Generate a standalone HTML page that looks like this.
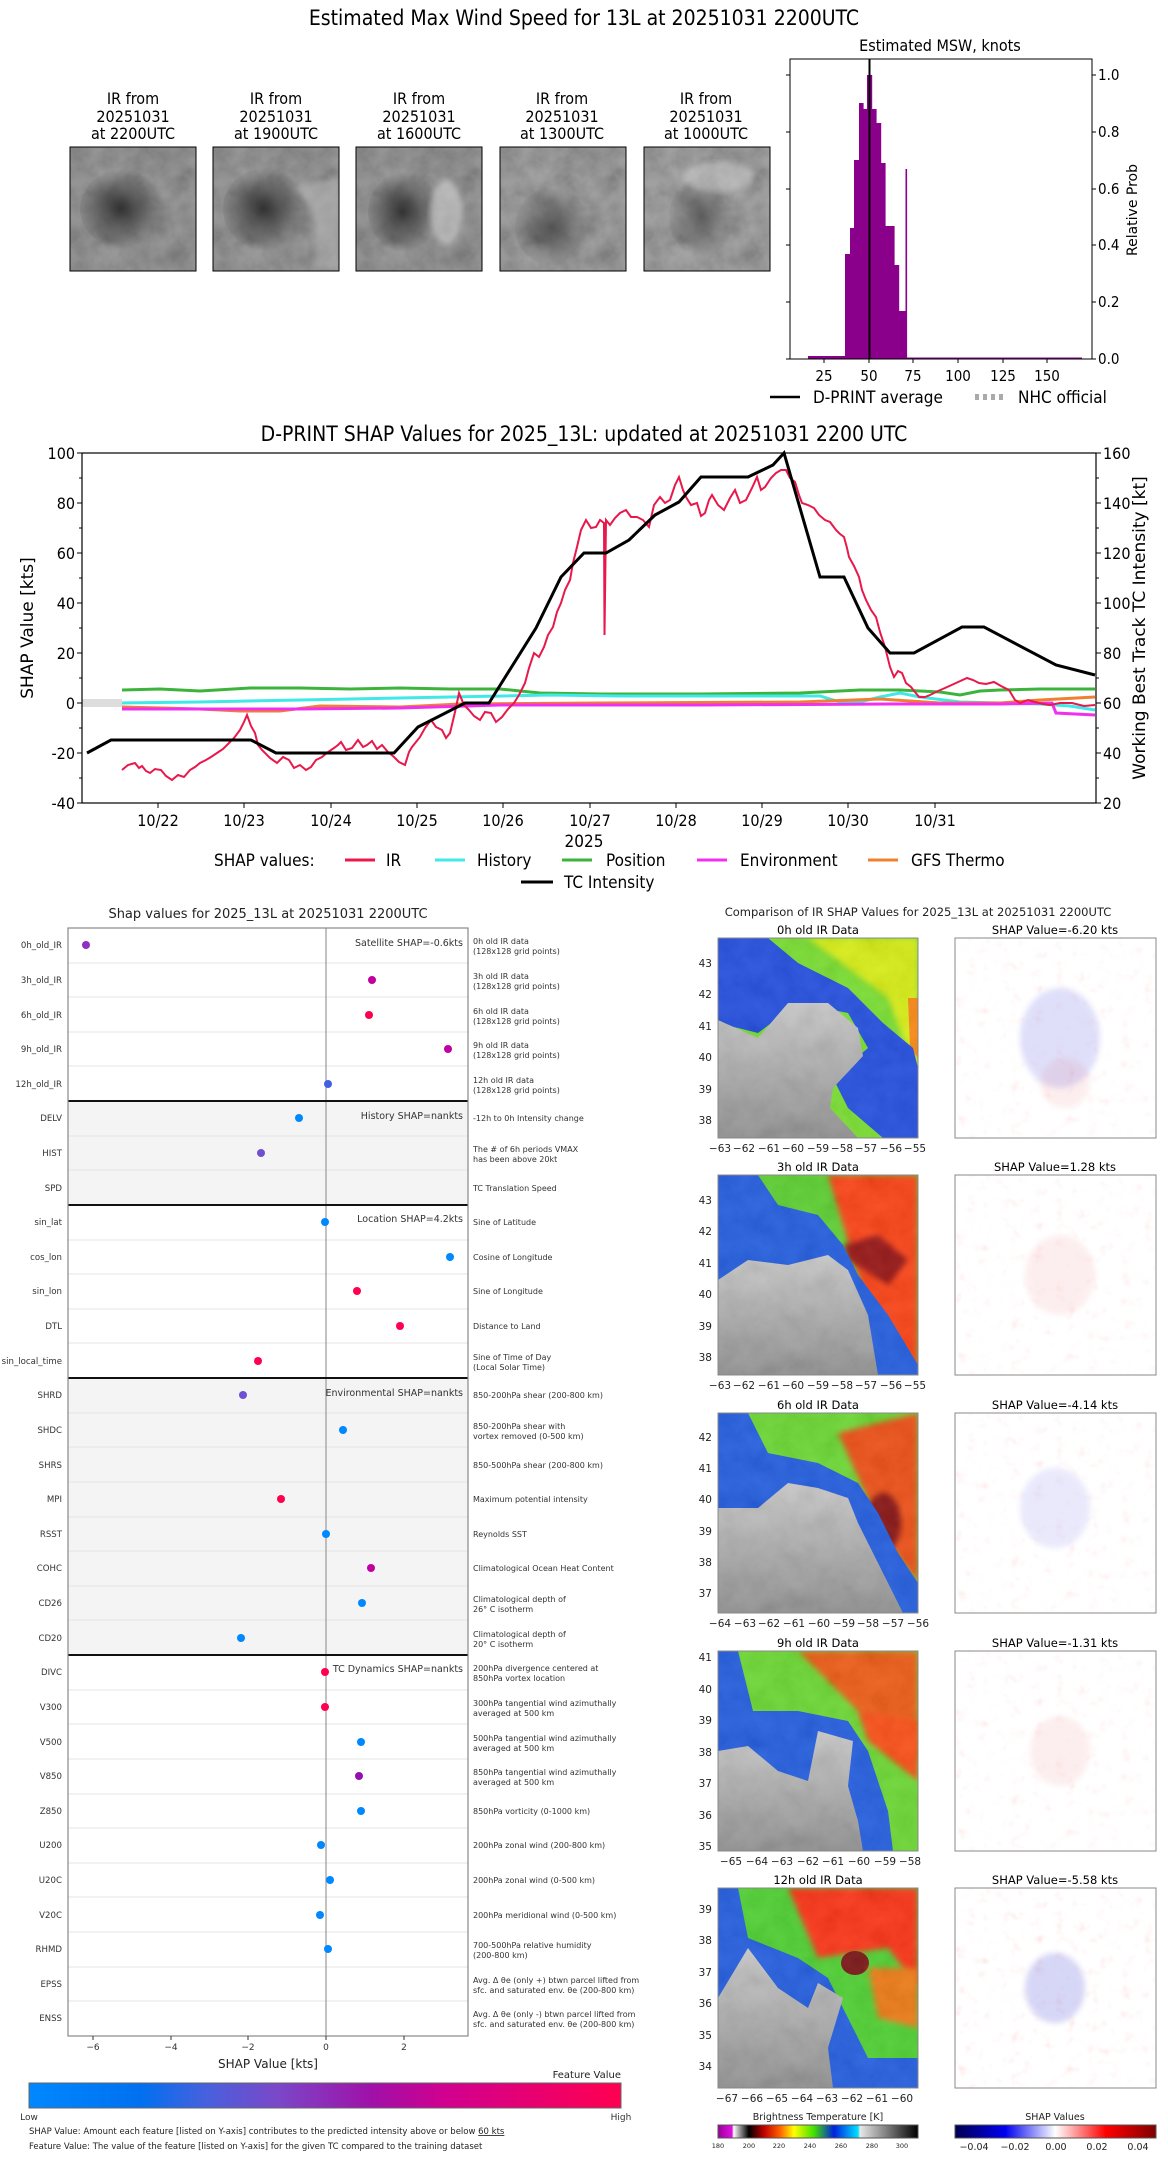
<!DOCTYPE html>
<html><head><meta charset="utf-8"><style>
html,body{margin:0;padding:0;background:#fff}
svg{display:block}
.n{font-family:"Liberation Sans Narrow","DejaVu Sans Condensed","Liberation Sans",sans-serif}
.d{font-family:"DejaVu Sans","Liberation Sans",sans-serif}
</style></head><body>
<svg width="1168" height="2158" viewBox="0 0 1168 2158" xmlns="http://www.w3.org/2000/svg">
<defs>
<filter id="gn" x="0" y="0" width="1" height="1"><feTurbulence type="fractalNoise" baseFrequency="0.05" numOctaves="4" seed="2"/><feColorMatrix type="matrix" values="0.33 0.33 0.33 0 0  0.33 0.33 0.33 0 0  0.33 0.33 0.33 0 0  0 0 0 0 1"/></filter>
<filter id="sn" x="0" y="0" width="1" height="1"><feTurbulence type="fractalNoise" baseFrequency="0.09" numOctaves="2" seed="5"/><feColorMatrix type="matrix" values="0 0 0 0 1  -1.2 0 1.2 0 0.9  -1.2 0 1.2 0 0.9  -1.5 0 -1.5 0 1.6"/></filter>
<filter id="bl"><feGaussianBlur stdDeviation="3"/></filter>
<radialGradient id="dk" cx="0.45" cy="0.5" r="0.5"><stop offset="0" stop-color="#222" stop-opacity="0.85"/><stop offset="1" stop-color="#222" stop-opacity="0"/></radialGradient>
<linearGradient id="fv" x1="0" x2="1"><stop offset="0" stop-color="#0088ff"/><stop offset="0.19" stop-color="#0070f0"/><stop offset="0.3" stop-color="#4860dd"/><stop offset="0.42" stop-color="#7a48c8"/><stop offset="0.58" stop-color="#a010a8"/><stop offset="0.7" stop-color="#d00090"/><stop offset="1" stop-color="#ff0050"/></linearGradient>
<linearGradient id="bt" x1="0" x2="1"><stop offset="0" stop-color="#990099"/><stop offset="0.07" stop-color="#e010e0"/><stop offset="0.078" stop-color="#ffffff"/><stop offset="0.154" stop-color="#000000"/><stop offset="0.23" stop-color="#c00000"/><stop offset="0.31" stop-color="#ff6000"/><stop offset="0.38" stop-color="#ffff00"/><stop offset="0.48" stop-color="#40e000"/><stop offset="0.58" stop-color="#0020e0"/><stop offset="0.7" stop-color="#00e0ff"/><stop offset="0.71" stop-color="#e8e8e8"/><stop offset="1" stop-color="#000000"/></linearGradient>
<linearGradient id="sv" x1="0" x2="1"><stop offset="0" stop-color="#000050"/><stop offset="0.25" stop-color="#0000f0"/><stop offset="0.5" stop-color="#ffffff"/><stop offset="0.75" stop-color="#ff0000"/><stop offset="1" stop-color="#800000"/></linearGradient>
<linearGradient id="gy" x1="0" y1="0" x2="0" y2="1"><stop offset="0" stop-color="#c8c8c8"/><stop offset="1" stop-color="#8a8a8a"/></linearGradient>
<clipPath id="pc"><rect x="0" y="0" width="200" height="200"/></clipPath>
<clipPath id="tc"><rect x="0" y="0" width="126" height="124"/></clipPath>
</defs>

<!-- ============ TOP ============ -->
<text class="n" x="584" y="25" font-size="21" text-anchor="middle">Estimated Max Wind Speed for 13L at 20251031 2200UTC</text>
<g class="n" font-size="16" text-anchor="middle">
<text x="133" y="104">IR from</text><text x="133" y="122">20251031</text><text x="133" y="139">at 2200UTC</text>
<text x="276" y="104">IR from</text><text x="276" y="122">20251031</text><text x="276" y="139">at 1900UTC</text>
<text x="419" y="104">IR from</text><text x="419" y="122">20251031</text><text x="419" y="139">at 1600UTC</text>
<text x="562" y="104">IR from</text><text x="562" y="122">20251031</text><text x="562" y="139">at 1300UTC</text>
<text x="706" y="104">IR from</text><text x="706" y="122">20251031</text><text x="706" y="139">at 1000UTC</text>
</g>
<g transform="translate(70,147)"><g clip-path="url(#tc)"><rect width="126" height="124" fill="#6e6e6e"/><rect width="126" height="124" filter="url(#gn)" opacity="0.4"/><ellipse cx="55" cy="62" rx="45" ry="40" fill="url(#dk)"/></g><rect width="126" height="124" fill="none" stroke="#000"/></g>
<g transform="translate(213,147)"><g clip-path="url(#tc)"><rect width="126" height="124" fill="#707070"/><rect width="126" height="124" filter="url(#gn)" opacity="0.4"/><ellipse cx="55" cy="62" rx="45" ry="42" fill="url(#dk)"/><path d="M80 40 Q110 60 100 120 L126 124 L126 30Z" fill="#bbb" opacity="0.5" filter="url(#bl)"/></g><rect width="126" height="124" fill="none" stroke="#000"/></g>
<g transform="translate(356,147)"><g clip-path="url(#tc)"><rect width="126" height="124" fill="#6e6e6e"/><rect width="126" height="124" filter="url(#gn)" opacity="0.4"/><ellipse cx="50" cy="65" rx="38" ry="40" fill="url(#dk)"/><ellipse cx="90" cy="65" rx="16" ry="32" fill="#ddd" opacity="0.5" filter="url(#bl)"/></g><rect width="126" height="124" fill="none" stroke="#000"/></g>
<g transform="translate(500,147)"><g clip-path="url(#tc)"><rect width="126" height="124" fill="#747474"/><rect width="126" height="124" filter="url(#gn)" opacity="0.45"/><ellipse cx="55" cy="80" rx="40" ry="40" fill="url(#dk)" opacity="0.7"/></g><rect width="126" height="124" fill="none" stroke="#000"/></g>
<g transform="translate(644,147)"><g clip-path="url(#tc)"><rect width="126" height="124" fill="#7a7a7a"/><rect width="126" height="124" filter="url(#gn)" opacity="0.45"/><ellipse cx="60" cy="70" rx="35" ry="40" fill="url(#dk)" opacity="0.6"/><ellipse cx="75" cy="30" rx="35" ry="15" fill="#ddd" opacity="0.4" filter="url(#bl)"/></g><rect width="126" height="124" fill="none" stroke="#000"/></g>

<!-- histogram -->
<text class="n" x="940" y="51" font-size="16" text-anchor="middle">Estimated MSW, knots</text>
<g fill="#8b008b">
<rect x="808" y="356" width="37" height="3"/>
<rect x="845" y="254" width="5.2" height="105"/><rect x="850" y="228" width="4.6" height="131"/><rect x="854" y="160" width="5.2" height="199"/><rect x="859" y="103" width="4.6" height="256"/><rect x="863" y="109" width="4.6" height="250"/><rect x="867" y="75" width="5.2" height="284"/><rect x="872" y="109" width="4.6" height="250"/><rect x="876" y="123" width="5.2" height="236"/><rect x="881" y="163" width="4.6" height="196"/><rect x="885" y="226" width="5.2" height="133"/><rect x="890" y="226" width="4.6" height="133"/><rect x="894" y="265" width="5.2" height="94"/><rect x="899" y="311" width="4.6" height="48"/><rect x="903" y="311" width="3" height="48"/>
<rect x="905.5" y="169" width="1.6" height="190"/>
<rect x="907" y="357.5" width="175" height="1.5"/>
</g>
<line x1="869.5" y1="59" x2="869.5" y2="359" stroke="#000" stroke-width="2"/>
<rect x="790" y="59" width="302" height="300" fill="none" stroke="#000" stroke-width="1"/>
<g stroke="#000">
<line x1="824" y1="359" x2="824" y2="363"/><line x1="869" y1="359" x2="869" y2="363"/><line x1="913" y1="359" x2="913" y2="363"/><line x1="958" y1="359" x2="958" y2="363"/><line x1="1003" y1="359" x2="1003" y2="363"/><line x1="1047" y1="359" x2="1047" y2="363"/>
<line x1="1092" y1="359" x2="1096" y2="359"/><line x1="1092" y1="302" x2="1096" y2="302"/><line x1="1092" y1="245" x2="1096" y2="245"/><line x1="1092" y1="189" x2="1096" y2="189"/><line x1="1092" y1="132" x2="1096" y2="132"/><line x1="1092" y1="75" x2="1096" y2="75"/>
<line x1="786" y1="359" x2="790" y2="359"/><line x1="786" y1="302" x2="790" y2="302"/><line x1="786" y1="245" x2="790" y2="245"/><line x1="786" y1="189" x2="790" y2="189"/><line x1="786" y1="132" x2="790" y2="132"/><line x1="786" y1="75" x2="790" y2="75"/>
</g>
<g class="n" font-size="15" text-anchor="middle"><text x="824" y="381">25</text><text x="869" y="381">50</text><text x="913" y="381">75</text><text x="958" y="381">100</text><text x="1003" y="381">125</text><text x="1047" y="381">150</text></g>
<g class="n" font-size="15"><text x="1098" y="364">0.0</text><text x="1098" y="307">0.2</text><text x="1098" y="250">0.4</text><text x="1098" y="194">0.6</text><text x="1098" y="137">0.8</text><text x="1098" y="80">1.0</text></g>
<text class="d" transform="translate(1137,210) rotate(-90)" font-size="14" text-anchor="middle">Relative Prob</text>
<line x1="770" y1="397" x2="800" y2="397" stroke="#000" stroke-width="2.5"/>
<text class="n" x="813" y="403" font-size="17">D-PRINT average</text>
<line x1="975" y1="397" x2="1005" y2="397" stroke="#aaa" stroke-width="6" stroke-dasharray="4,4"/>
<text class="n" x="1018" y="403" font-size="17">NHC official</text>

<!-- ============ MIDDLE CHART ============ -->
<text class="n" x="584" y="441" font-size="21" text-anchor="middle">D-PRINT SHAP Values for 2025_13L: updated at 20251031 2200 UTC</text>
<rect x="82" y="699" width="40" height="8" fill="#ddd"/>
<polyline fill="none" stroke="#3cb43c" stroke-width="3" points="122,690 160,689 200,691 250,688 300,688 350,689 400,688 450,689 500,689 540,693 600,694 700,694 800,693 860,690 900,690 940,692 960,695 980,691 1000,690 1040,689 1095,689"/>
<polyline fill="none" stroke="#40e8e8" stroke-width="3" points="122,703 200,702 300,700 450,697 550,695 620,696 700,696 820,696 840,702 860,702 880,697 900,693 920,697 960,702 1040,704 1070,706 1095,710"/>
<polyline fill="none" stroke="#f08030" stroke-width="3" points="122,707 200,709 240,711 280,711 320,706 400,707 460,704 600,703 800,702 880,699 940,703 1000,703 1040,700 1095,697"/>
<polyline fill="none" stroke="#f030f0" stroke-width="3" points="122,709 300,709 400,708 500,705 700,705 900,704 1000,704 1052,703 1056,713 1095,715"/>
<polyline fill="none" stroke="#e8184a" stroke-width="2" points="122,770 128,765 135,763 139,768 142,766 146,771 150,773 155,769 161,770 166,776 172,780 178,775 184,777 190,770 195,767 200,763 206,760 211,757 217,753 223,749 229,743 234,738 240,730 244,722 247,715 251,726 255,733 258,745 262,750 270,758 277,763 283,757 289,760 294,768 300,765 306,770 311,767 316,760 322,757 328,752 334,748 338,745 341,742 346,750 352,748 358,740 363,747 367,745 372,741 377,749 382,745 388,752 394,757 399,762 405,765 409,752 412,747 416,742 420,737 425,728 431,720 436,727 442,730 446,738 450,733 455,712 459,693 464,705 469,710 474,716 480,720 485,712 491,713 496,722 502,717 508,709 514,703 519,695 525,683 529,668 534,653 539,657 544,647 548,635 553,627 557,612 561,603 565,590 570,580 573,563 577,547 581,530 586,520 591,528 596,527 600,520 604,523 604.5,635 606,520 610,525 615,518 620,513 626,510 631,517 637,517 643,520 649,527 654,505 660,497 665,503 670,500 675,485 679,477 683,490 686,497 691,505 697,503 701,516 705,513 709,500 712,495 718,505 724,510 730,498 735,490 740,503 746,500 752,488 757,477 761,490 765,487 771,478 776,473 781,470 786,470 790,478 795,482 799,495 802,503 808,505 814,508 819,515 825,520 830,522 836,530 840,534 844,537 847,548 849,557 854,566 859,577 862,590 866,600 871,610 876,617 880,632 885,647 890,667 894,677 898,671 902,673 906,683 911,687 915,692 919,697 925,697 930,695 938,691 945,688 956,683 967,678 973,680 979,683 986,684 994,682 1001,686 1009,690 1015,700 1020,703 1028,700 1035,702 1043,704 1050,705 1060,703 1072,703 1084,706 1095,705"/>
<polyline fill="none" stroke="#000" stroke-width="3" points="87,753 111,740 251,740 276,753 394,753 418,727 465,703 489,703 536,628 561,577 584,553 606,553 629,540 655,515 679,502 701,477 748,477 773,465 784,453 820,577 844,577 868,628 890,653 914,653 962,627 984,627 1056,665 1095,675"/>
<rect x="82" y="453" width="1014" height="350" fill="none" stroke="#000" stroke-width="1.2"/>
<g stroke="#000">
<line x1="77" y1="453" x2="82" y2="453"/><line x1="77" y1="503" x2="82" y2="503"/><line x1="77" y1="553" x2="82" y2="553"/><line x1="77" y1="603" x2="82" y2="603"/><line x1="77" y1="653" x2="82" y2="653"/><line x1="77" y1="703" x2="82" y2="703"/><line x1="77" y1="753" x2="82" y2="753"/><line x1="77" y1="803" x2="82" y2="803"/>
<line x1="79" y1="478" x2="82" y2="478"/><line x1="79" y1="528" x2="82" y2="528"/><line x1="79" y1="578" x2="82" y2="578"/><line x1="79" y1="628" x2="82" y2="628"/><line x1="79" y1="678" x2="82" y2="678"/><line x1="79" y1="728" x2="82" y2="728"/><line x1="79" y1="778" x2="82" y2="778"/>
<line x1="1096" y1="453" x2="1101" y2="453"/><line x1="1096" y1="503" x2="1101" y2="503"/><line x1="1096" y1="553" x2="1101" y2="553"/><line x1="1096" y1="603" x2="1101" y2="603"/><line x1="1096" y1="653" x2="1101" y2="653"/><line x1="1096" y1="703" x2="1101" y2="703"/><line x1="1096" y1="753" x2="1101" y2="753"/><line x1="1096" y1="803" x2="1101" y2="803"/>
<line x1="1096" y1="478" x2="1099" y2="478"/><line x1="1096" y1="528" x2="1099" y2="528"/><line x1="1096" y1="578" x2="1099" y2="578"/><line x1="1096" y1="628" x2="1099" y2="628"/><line x1="1096" y1="678" x2="1099" y2="678"/><line x1="1096" y1="728" x2="1099" y2="728"/><line x1="1096" y1="778" x2="1099" y2="778"/>
<line x1="158" y1="803" x2="158" y2="808"/><line x1="244" y1="803" x2="244" y2="808"/><line x1="331" y1="803" x2="331" y2="808"/><line x1="417" y1="803" x2="417" y2="808"/><line x1="503" y1="803" x2="503" y2="808"/><line x1="590" y1="803" x2="590" y2="808"/><line x1="676" y1="803" x2="676" y2="808"/><line x1="762" y1="803" x2="762" y2="808"/><line x1="848" y1="803" x2="848" y2="808"/><line x1="935" y1="803" x2="935" y2="808"/>
</g>
<g class="n" font-size="16" text-anchor="end"><text x="75" y="459">100</text><text x="75" y="509">80</text><text x="75" y="559">60</text><text x="75" y="609">40</text><text x="75" y="659">20</text><text x="75" y="709">0</text><text x="75" y="759">-20</text><text x="75" y="809">-40</text></g>
<g class="n" font-size="16"><text x="1103" y="459">160</text><text x="1103" y="509">140</text><text x="1103" y="559">120</text><text x="1103" y="609">100</text><text x="1103" y="659">80</text><text x="1103" y="709">60</text><text x="1103" y="759">40</text><text x="1103" y="809">20</text></g>
<g class="n" font-size="16" text-anchor="middle"><text x="158" y="826">10/22</text><text x="244" y="826">10/23</text><text x="331" y="826">10/24</text><text x="417" y="826">10/25</text><text x="503" y="826">10/26</text><text x="590" y="826">10/27</text><text x="676" y="826">10/28</text><text x="762" y="826">10/29</text><text x="848" y="826">10/30</text><text x="935" y="826">10/31</text></g>
<text class="n" x="584" y="847" font-size="17" text-anchor="middle">2025</text>
<text class="d" transform="translate(33,628) rotate(-90)" font-size="17" text-anchor="middle">SHAP Value [kts]</text>
<text class="d" transform="translate(1145,628) rotate(-90)" font-size="17" text-anchor="middle">Working Best Track TC Intensity [kt]</text>
<g class="n" font-size="17">
<text x="214" y="866">SHAP values:</text>
<line x1="345" y1="860" x2="375" y2="860" stroke="#e8184a" stroke-width="3"/><text x="386" y="866">IR</text>
<line x1="435" y1="860" x2="465" y2="860" stroke="#40e8e8" stroke-width="3"/><text x="477" y="866">History</text>
<line x1="562" y1="860" x2="592" y2="860" stroke="#3cb43c" stroke-width="3"/><text x="606" y="866">Position</text>
<line x1="697" y1="860" x2="727" y2="860" stroke="#f030f0" stroke-width="3"/><text x="740" y="866">Environment</text>
<line x1="868" y1="860" x2="898" y2="860" stroke="#f08030" stroke-width="3"/><text x="911" y="866">GFS Thermo</text>
<line x1="521" y1="882" x2="553" y2="882" stroke="#000" stroke-width="3"/><text x="564" y="888">TC Intensity</text>
</g>

<!-- ============ LEFT SHAP DOT PLOT ============ -->
<text class="d" x="268" y="918" font-size="13" text-anchor="middle" fill="#222">Shap values for 2025_13L at 20251031 2200UTC</text>
<rect x="68" y="1101" width="400" height="104" fill="#f4f4f4"/>
<rect x="68" y="1378" width="400" height="277" fill="#f4f4f4"/>
<g stroke="#e4e4e4" stroke-width="1">
<line x1="68" y1="963" x2="468" y2="963"/><line x1="68" y1="997" x2="468" y2="997"/><line x1="68" y1="1032" x2="468" y2="1032"/><line x1="68" y1="1066" x2="468" y2="1066"/>
<line x1="68" y1="1136" x2="468" y2="1136"/><line x1="68" y1="1170" x2="468" y2="1170"/>
<line x1="68" y1="1240" x2="468" y2="1240"/><line x1="68" y1="1274" x2="468" y2="1274"/><line x1="68" y1="1309" x2="468" y2="1309"/><line x1="68" y1="1343" x2="468" y2="1343"/>
<line x1="68" y1="1413" x2="468" y2="1413"/><line x1="68" y1="1447" x2="468" y2="1447"/><line x1="68" y1="1482" x2="468" y2="1482"/><line x1="68" y1="1517" x2="468" y2="1517"/><line x1="68" y1="1551" x2="468" y2="1551"/><line x1="68" y1="1586" x2="468" y2="1586"/><line x1="68" y1="1620" x2="468" y2="1620"/>
<line x1="68" y1="1690" x2="468" y2="1690"/><line x1="68" y1="1724" x2="468" y2="1724"/><line x1="68" y1="1759" x2="468" y2="1759"/><line x1="68" y1="1794" x2="468" y2="1794"/><line x1="68" y1="1828" x2="468" y2="1828"/><line x1="68" y1="1863" x2="468" y2="1863"/><line x1="68" y1="1897" x2="468" y2="1897"/><line x1="68" y1="1932" x2="468" y2="1932"/><line x1="68" y1="1967" x2="468" y2="1967"/><line x1="68" y1="2001" x2="468" y2="2001"/>
</g>
<line x1="326" y1="928" x2="326" y2="2036" stroke="#999" stroke-width="1.2"/>
<g stroke="#111" stroke-width="2"><line x1="68" y1="1101" x2="468" y2="1101"/><line x1="68" y1="1205" x2="468" y2="1205"/><line x1="68" y1="1378" x2="468" y2="1378"/><line x1="68" y1="1655" x2="468" y2="1655"/></g>
<rect x="68" y="928" width="400" height="1108" fill="none" stroke="#888" stroke-width="1.2"/>
<g class="d" font-size="8.6" fill="#333" text-anchor="end">
<text x="62" y="948">0h_old_IR</text><text x="62" y="983">3h_old_IR</text><text x="62" y="1018">6h_old_IR</text><text x="62" y="1052">9h_old_IR</text><text x="62" y="1087">12h_old_IR</text>
<text x="62" y="1121">DELV</text><text x="62" y="1156">HIST</text><text x="62" y="1191">SPD</text>
<text x="62" y="1225">sin_lat</text><text x="62" y="1260">cos_lon</text><text x="62" y="1294">sin_lon</text><text x="62" y="1329">DTL</text><text x="62" y="1364">sin_local_time</text>
<text x="62" y="1398">SHRD</text><text x="62" y="1433">SHDC</text><text x="62" y="1468">SHRS</text><text x="62" y="1502">MPI</text><text x="62" y="1537">RSST</text><text x="62" y="1571">COHC</text><text x="62" y="1606">CD26</text><text x="62" y="1641">CD20</text>
<text x="62" y="1675">DIVC</text><text x="62" y="1710">V300</text><text x="62" y="1745">V500</text><text x="62" y="1779">V850</text><text x="62" y="1814">Z850</text><text x="62" y="1848">U200</text><text x="62" y="1883">U20C</text><text x="62" y="1918">V20C</text><text x="62" y="1952">RHMD</text><text x="62" y="1987">EPSS</text><text x="62" y="2021">ENSS</text>
</g>
<g class="d" font-size="9.5" fill="#333" text-anchor="end">
<text x="463" y="946">Satellite SHAP=-0.6kts</text>
<text x="463" y="1119">History SHAP=nankts</text>
<text x="463" y="1222">Location SHAP=4.2kts</text>
<text x="463" y="1396">Environmental SHAP=nankts</text>
<text x="463" y="1672">TC Dynamics SHAP=nankts</text>
</g>
<g class="d" font-size="8" fill="#333">
<text x="473" y="944">0h old IR data</text><text x="473" y="954">(128x128 grid points)</text>
<text x="473" y="979">3h old IR data</text><text x="473" y="989">(128x128 grid points)</text>
<text x="473" y="1014">6h old IR data</text><text x="473" y="1024">(128x128 grid points)</text>
<text x="473" y="1048">9h old IR data</text><text x="473" y="1058">(128x128 grid points)</text>
<text x="473" y="1083">12h old IR data</text><text x="473" y="1093">(128x128 grid points)</text>
<text x="473" y="1121">-12h to 0h Intensity change</text>
<text x="473" y="1152">The # of 6h periods VMAX</text><text x="473" y="1162">has been above 20kt</text>
<text x="473" y="1191">TC Translation Speed</text>
<text x="473" y="1225">Sine of Latitude</text>
<text x="473" y="1260">Cosine of Longitude</text>
<text x="473" y="1294">Sine of Longitude</text>
<text x="473" y="1329">Distance to Land</text>
<text x="473" y="1360">Sine of Time of Day</text><text x="473" y="1370">(Local Solar Time)</text>
<text x="473" y="1398">850-200hPa shear (200-800 km)</text>
<text x="473" y="1429">850-200hPa shear with</text><text x="473" y="1439">vortex removed (0-500 km)</text>
<text x="473" y="1468">850-500hPa shear (200-800 km)</text>
<text x="473" y="1502">Maximum potential intensity</text>
<text x="473" y="1537">Reynolds SST</text>
<text x="473" y="1571">Climatological Ocean Heat Content</text>
<text x="473" y="1602">Climatological depth of</text><text x="473" y="1612">26° C isotherm</text>
<text x="473" y="1637">Climatological depth of</text><text x="473" y="1647">20° C isotherm</text>
<text x="473" y="1671">200hPa divergence centered at</text><text x="473" y="1681">850hPa vortex location</text>
<text x="473" y="1706">300hPa tangential wind azimuthally</text><text x="473" y="1716">averaged at 500 km</text>
<text x="473" y="1741">500hPa tangential wind azimuthally</text><text x="473" y="1751">averaged at 500 km</text>
<text x="473" y="1775">850hPa tangential wind azimuthally</text><text x="473" y="1785">averaged at 500 km</text>
<text x="473" y="1814">850hPa vorticity (0-1000 km)</text>
<text x="473" y="1848">200hPa zonal wind (200-800 km)</text>
<text x="473" y="1883">200hPa zonal wind (0-500 km)</text>
<text x="473" y="1918">200hPa meridional wind (0-500 km)</text>
<text x="473" y="1948">700-500hPa relative humidity</text><text x="473" y="1958">(200-800 km)</text>
<text x="473" y="1983">Avg. Δ θe (only +) btwn parcel lifted from</text><text x="473" y="1993">sfc. and saturated env. θe (200-800 km)</text>
<text x="473" y="2017">Avg. Δ θe (only -) btwn parcel lifted from</text><text x="473" y="2027">sfc. and saturated env. θe (200-800 km)</text>
</g>
<g>
<circle cx="86" cy="945" r="4" fill="#9030c0"/><circle cx="372" cy="980" r="4" fill="#c000a0"/><circle cx="369" cy="1015" r="4" fill="#ff0050"/><circle cx="448" cy="1049" r="4" fill="#c000a0"/><circle cx="328" cy="1084" r="4" fill="#4060e0"/>
<circle cx="299" cy="1118" r="4" fill="#0088ff"/><circle cx="261" cy="1153" r="4" fill="#7050d0"/>
<circle cx="325" cy="1222" r="4" fill="#0088ff"/><circle cx="450" cy="1257" r="4" fill="#0088ff"/><circle cx="357" cy="1291" r="4" fill="#ff0050"/><circle cx="400" cy="1326" r="4" fill="#ff0050"/><circle cx="258" cy="1361" r="4" fill="#ff0050"/>
<circle cx="243" cy="1395" r="4" fill="#7050d0"/><circle cx="343" cy="1430" r="4" fill="#0088ff"/><circle cx="281" cy="1499" r="4" fill="#ff0050"/><circle cx="326" cy="1534" r="4" fill="#0088ff"/><circle cx="371" cy="1568" r="4" fill="#c000a0"/><circle cx="362" cy="1603" r="4" fill="#0088ff"/><circle cx="241" cy="1638" r="4" fill="#0088ff"/>
<circle cx="325" cy="1672" r="4" fill="#ff0050"/><circle cx="325" cy="1707" r="4" fill="#ff0050"/><circle cx="361" cy="1742" r="4" fill="#0088ff"/><circle cx="359" cy="1776" r="4" fill="#9010b0"/><circle cx="361" cy="1811" r="4" fill="#0088ff"/><circle cx="321" cy="1845" r="4" fill="#0088ff"/><circle cx="330" cy="1880" r="4" fill="#0088ff"/><circle cx="320" cy="1915" r="4" fill="#0088ff"/><circle cx="328" cy="1949" r="4" fill="#0088ff"/>
</g>
<g stroke="#333"><line x1="93" y1="2036" x2="93" y2="2040"/><line x1="171" y1="2036" x2="171" y2="2040"/><line x1="248" y1="2036" x2="248" y2="2040"/><line x1="326" y1="2036" x2="326" y2="2040"/><line x1="404" y1="2036" x2="404" y2="2040"/></g>
<g class="d" font-size="9" fill="#333" text-anchor="middle"><text x="93" y="2050">−6</text><text x="171" y="2050">−4</text><text x="248" y="2050">−2</text><text x="326" y="2050">0</text><text x="404" y="2050">2</text></g>
<text class="d" x="268" y="2068" font-size="12" text-anchor="middle" fill="#222">SHAP Value [kts]</text>
<text class="d" x="621" y="2078" font-size="10" text-anchor="end" fill="#222">Feature Value</text>
<rect x="29" y="2083" width="592" height="25" fill="url(#fv)" stroke="#666"/>
<text class="d" x="29" y="2120" font-size="9" text-anchor="middle" fill="#333">Low</text>
<text class="d" x="621" y="2120" font-size="9" text-anchor="middle" fill="#333">High</text>
<text class="d" x="29" y="2134" font-size="8.5" fill="#222">SHAP Value: Amount each feature [listed on Y-axis] contributes to the predicted intensity above or below <tspan text-decoration="underline">60 kts</tspan></text>
<text class="d" x="29" y="2149" font-size="8.5" fill="#222">Feature Value: The value of the feature [listed on Y-axis] for the given TC compared to the training dataset</text>

<!-- ============ RIGHT IR PANELS ============ -->
<text class="d" x="918" y="916" font-size="11.5" text-anchor="middle" fill="#222">Comparison of IR SHAP Values for 2025_13L at 20251031 2200UTC</text>

<g transform="translate(718,938)">
<text class="d" x="100" y="-4" font-size="11.5" text-anchor="middle">0h old IR Data</text>
<g clip-path="url(#pc)">
<rect width="200" height="200" fill="#70e020"/><polygon points="90,0 200,0 200,140 170,60" fill="#d8f000" filter="url(#bl)"/><polygon points="190,60 200,60 200,120 192,110" fill="#ff8000"/>
<path d="M0 0 L50 0 L80 25 L130 50 L165 85 L195 110 L200 130 L200 200 L165 200 L130 170 L115 140 L150 110 L130 75 L80 65 L40 95 L0 85Z" fill="#1040e0"/>
<path d="M0 82 L40 100 L70 65 L110 65 L140 90 L145 118 L115 150 L112 170 L140 200 L0 200Z" fill="url(#gy)"/>
<rect width="200" height="200" filter="url(#gn)" opacity="0.18"/>
</g><rect width="200" height="200" fill="none" stroke="#888"/>
</g>
<g transform="translate(955,938)">
<text class="d" x="100" y="-4" font-size="11.5" text-anchor="middle">SHAP Value=-6.20 kts</text>
<g clip-path="url(#pc)"><rect width="201" height="200" fill="#fff"/><rect width="201" height="200" filter="url(#sn)" opacity="0.3"/>
<ellipse cx="105" cy="100" rx="40" ry="50" fill="#3030e0" opacity="0.15" filter="url(#bl)"/><ellipse cx="110" cy="145" rx="25" ry="25" fill="#e03030" opacity="0.08" filter="url(#bl)"/></g>
<rect width="201" height="200" fill="none" stroke="#888"/>
</g>

<g transform="translate(718,1175)">
<text class="d" x="100" y="-4" font-size="11.5" text-anchor="middle">3h old IR Data</text>
<g clip-path="url(#pc)">
<rect width="200" height="200" fill="#50d020"/><polygon points="110,0 200,0 200,200 170,200 140,100" fill="#ff3000" filter="url(#bl)"/><polygon points="125,70 160,60 190,85 170,110 130,85" fill="#900000" filter="url(#bl)"/>
<path d="M0 0 L40 0 L60 30 L100 40 L125 70 L140 100 L170 140 L200 190 L200 200 L0 200Z" fill="#1050e0"/>
<path d="M0 105 L30 85 L70 90 L110 80 L130 95 L150 140 L160 200 L0 200Z" fill="url(#gy)"/>
<rect width="200" height="200" filter="url(#gn)" opacity="0.18"/>
</g><rect width="200" height="200" fill="none" stroke="#888"/>
</g>
<g transform="translate(955,1175)">
<text class="d" x="100" y="-4" font-size="11.5" text-anchor="middle">SHAP Value=1.28 kts</text>
<g clip-path="url(#pc)"><rect width="201" height="200" fill="#fff"/><rect width="201" height="200" filter="url(#sn)" opacity="0.3"/>
<ellipse cx="105" cy="100" rx="35" ry="40" fill="#e03030" opacity="0.08" filter="url(#bl)"/></g>
<rect width="201" height="200" fill="none" stroke="#888"/>
</g>

<g transform="translate(718,1413)">
<text class="d" x="100" y="-4" font-size="11.5" text-anchor="middle">6h old IR Data</text>
<g clip-path="url(#pc)">
<rect width="200" height="200" fill="#60d820"/><polygon points="120,20 200,0 200,170 170,130" fill="#f04000" filter="url(#bl)"/><ellipse cx="165" cy="110" rx="18" ry="30" fill="#800000" filter="url(#bl)"/>
<path d="M0 0 L30 0 L50 40 L100 50 L140 70 L160 100 L180 140 L200 170 L200 200 L0 200Z" fill="#1050e0"/>
<path d="M0 95 L40 95 L70 70 L100 75 L130 85 L140 110 L160 150 L185 200 L0 200Z" fill="url(#gy)"/>
<rect width="200" height="200" filter="url(#gn)" opacity="0.18"/>
</g><rect width="200" height="200" fill="none" stroke="#888"/>
</g>
<g transform="translate(955,1413)">
<text class="d" x="100" y="-4" font-size="11.5" text-anchor="middle">SHAP Value=-4.14 kts</text>
<g clip-path="url(#pc)"><rect width="201" height="200" fill="#fff"/><rect width="201" height="200" filter="url(#sn)" opacity="0.3"/>
<ellipse cx="100" cy="95" rx="35" ry="40" fill="#3030e0" opacity="0.1" filter="url(#bl)"/></g>
<rect width="201" height="200" fill="none" stroke="#888"/>
</g>

<g transform="translate(718,1651)">
<text class="d" x="100" y="-4" font-size="11.5" text-anchor="middle">9h old IR Data</text>
<g clip-path="url(#pc)">
<rect width="200" height="200" fill="#60d820"/><polygon points="80,0 200,0 200,110 160,80" fill="#f05000" filter="url(#bl)"/><polygon points="140,60 200,70 200,130 150,90" fill="#ff4000" filter="url(#bl)"/>
<path d="M0 0 L20 0 L35 60 L80 60 L130 70 L150 100 L170 160 L175 200 L0 200Z" fill="#1050e0"/>
<path d="M0 100 L30 95 L60 120 L90 130 L100 80 L135 90 L130 135 L140 170 L145 200 L0 200Z" fill="url(#gy)"/>
<rect width="200" height="200" filter="url(#gn)" opacity="0.18"/>
</g><rect width="200" height="200" fill="none" stroke="#888"/>
</g>
<g transform="translate(955,1651)">
<text class="d" x="100" y="-4" font-size="11.5" text-anchor="middle">SHAP Value=-1.31 kts</text>
<g clip-path="url(#pc)"><rect width="201" height="200" fill="#fff"/><rect width="201" height="200" filter="url(#sn)" opacity="0.3"/>
<ellipse cx="105" cy="100" rx="30" ry="35" fill="#e03030" opacity="0.08" filter="url(#bl)"/></g>
<rect width="201" height="200" fill="none" stroke="#888"/>
</g>

<g transform="translate(718,1888)">
<text class="d" x="100" y="-4" font-size="11.5" text-anchor="middle">12h old IR Data</text>
<g clip-path="url(#pc)">
<rect width="200" height="200" fill="#40d020"/><polygon points="70,0 200,0 200,100 170,60 100,70" fill="#ff2000" filter="url(#bl)"/><ellipse cx="137" cy="75" rx="14" ry="12" fill="#700000"/><polygon points="150,80 200,80 200,140 160,130" fill="#f07000" filter="url(#bl)"/>
<path d="M0 0 L20 0 L30 50 L80 70 L110 90 L130 130 L150 170 L200 170 L200 200 L0 200Z" fill="#1050e0"/>
<path d="M0 110 L30 60 L60 100 L90 120 L100 95 L125 110 L110 160 L115 200 L0 200Z" fill="url(#gy)"/>
<rect width="200" height="200" filter="url(#gn)" opacity="0.18"/>
</g><rect width="200" height="200" fill="none" stroke="#888"/>
</g>
<g transform="translate(955,1888)">
<text class="d" x="100" y="-4" font-size="11.5" text-anchor="middle">SHAP Value=-5.58 kts</text>
<g clip-path="url(#pc)"><rect width="201" height="200" fill="#fff"/><rect width="201" height="200" filter="url(#sn)" opacity="0.4"/>
<ellipse cx="100" cy="100" rx="30" ry="35" fill="#2020d0" opacity="0.18" filter="url(#bl)"/></g>
<rect width="201" height="200" fill="none" stroke="#888"/>
</g>

<g class="d" font-size="10.5" fill="#222" text-anchor="end">
<text x="712" y="967">43</text><text x="712" y="998">42</text><text x="712" y="1030">41</text><text x="712" y="1061">40</text><text x="712" y="1093">39</text><text x="712" y="1124">38</text>
<text x="712" y="1204">43</text><text x="712" y="1235">42</text><text x="712" y="1267">41</text><text x="712" y="1298">40</text><text x="712" y="1330">39</text><text x="712" y="1361">38</text>
<text x="712" y="1441">42</text><text x="712" y="1472">41</text><text x="712" y="1503">40</text><text x="712" y="1535">39</text><text x="712" y="1566">38</text><text x="712" y="1597">37</text>
<text x="712" y="1661">41</text><text x="712" y="1693">40</text><text x="712" y="1724">39</text><text x="712" y="1756">38</text><text x="712" y="1787">37</text><text x="712" y="1819">36</text><text x="712" y="1850">35</text>
<text x="712" y="1913">39</text><text x="712" y="1944">38</text><text x="712" y="1976">37</text><text x="712" y="2007">36</text><text x="712" y="2039">35</text><text x="712" y="2070">34</text>
</g>
<g class="d" font-size="10.5" fill="#222" text-anchor="middle">
<text x="720" y="1152">−63</text><text x="744" y="1152">−62</text><text x="769" y="1152">−61</text><text x="793" y="1152">−60</text><text x="818" y="1152">−59</text><text x="842" y="1152">−58</text><text x="866" y="1152">−57</text><text x="891" y="1152">−56</text><text x="915" y="1152">−55</text>
<text x="720" y="1389">−63</text><text x="744" y="1389">−62</text><text x="769" y="1389">−61</text><text x="793" y="1389">−60</text><text x="818" y="1389">−59</text><text x="842" y="1389">−58</text><text x="866" y="1389">−57</text><text x="891" y="1389">−56</text><text x="915" y="1389">−55</text>
<text x="720" y="1627">−64</text><text x="745" y="1627">−63</text><text x="769" y="1627">−62</text><text x="794" y="1627">−61</text><text x="819" y="1627">−60</text><text x="844" y="1627">−59</text><text x="868" y="1627">−58</text><text x="893" y="1627">−57</text><text x="918" y="1627">−56</text>
<text x="731" y="1865">−65</text><text x="757" y="1865">−64</text><text x="782" y="1865">−63</text><text x="808" y="1865">−62</text><text x="833" y="1865">−61</text><text x="859" y="1865">−60</text><text x="885" y="1865">−59</text><text x="910" y="1865">−58</text>
<text x="727" y="2102">−67</text><text x="752" y="2102">−66</text><text x="777" y="2102">−65</text><text x="802" y="2102">−64</text><text x="827" y="2102">−63</text><text x="852" y="2102">−62</text><text x="877" y="2102">−61</text><text x="902" y="2102">−60</text>
</g>

<text class="d" x="818" y="2120" font-size="9.5" text-anchor="middle" fill="#222">Brightness Temperature [K]</text>
<rect x="718" y="2125" width="200" height="13" fill="url(#bt)" stroke="#555"/>
<g class="d" font-size="6.5" fill="#222" text-anchor="middle"><text x="718" y="2148">180</text><text x="749" y="2148">200</text><text x="779" y="2148">220</text><text x="810" y="2148">240</text><text x="841" y="2148">260</text><text x="872" y="2148">280</text><text x="902" y="2148">300</text></g>
<text class="d" x="1055" y="2120" font-size="9.5" text-anchor="middle" fill="#222">SHAP Values</text>
<rect x="955" y="2125" width="201" height="13" fill="url(#sv)" stroke="#555"/>
<g class="d" font-size="9.5" fill="#222" text-anchor="middle"><text x="974" y="2150">−0.04</text><text x="1015" y="2150">−0.02</text><text x="1056" y="2150">0.00</text><text x="1097" y="2150">0.02</text><text x="1138" y="2150">0.04</text></g>
</svg>
</body></html>
